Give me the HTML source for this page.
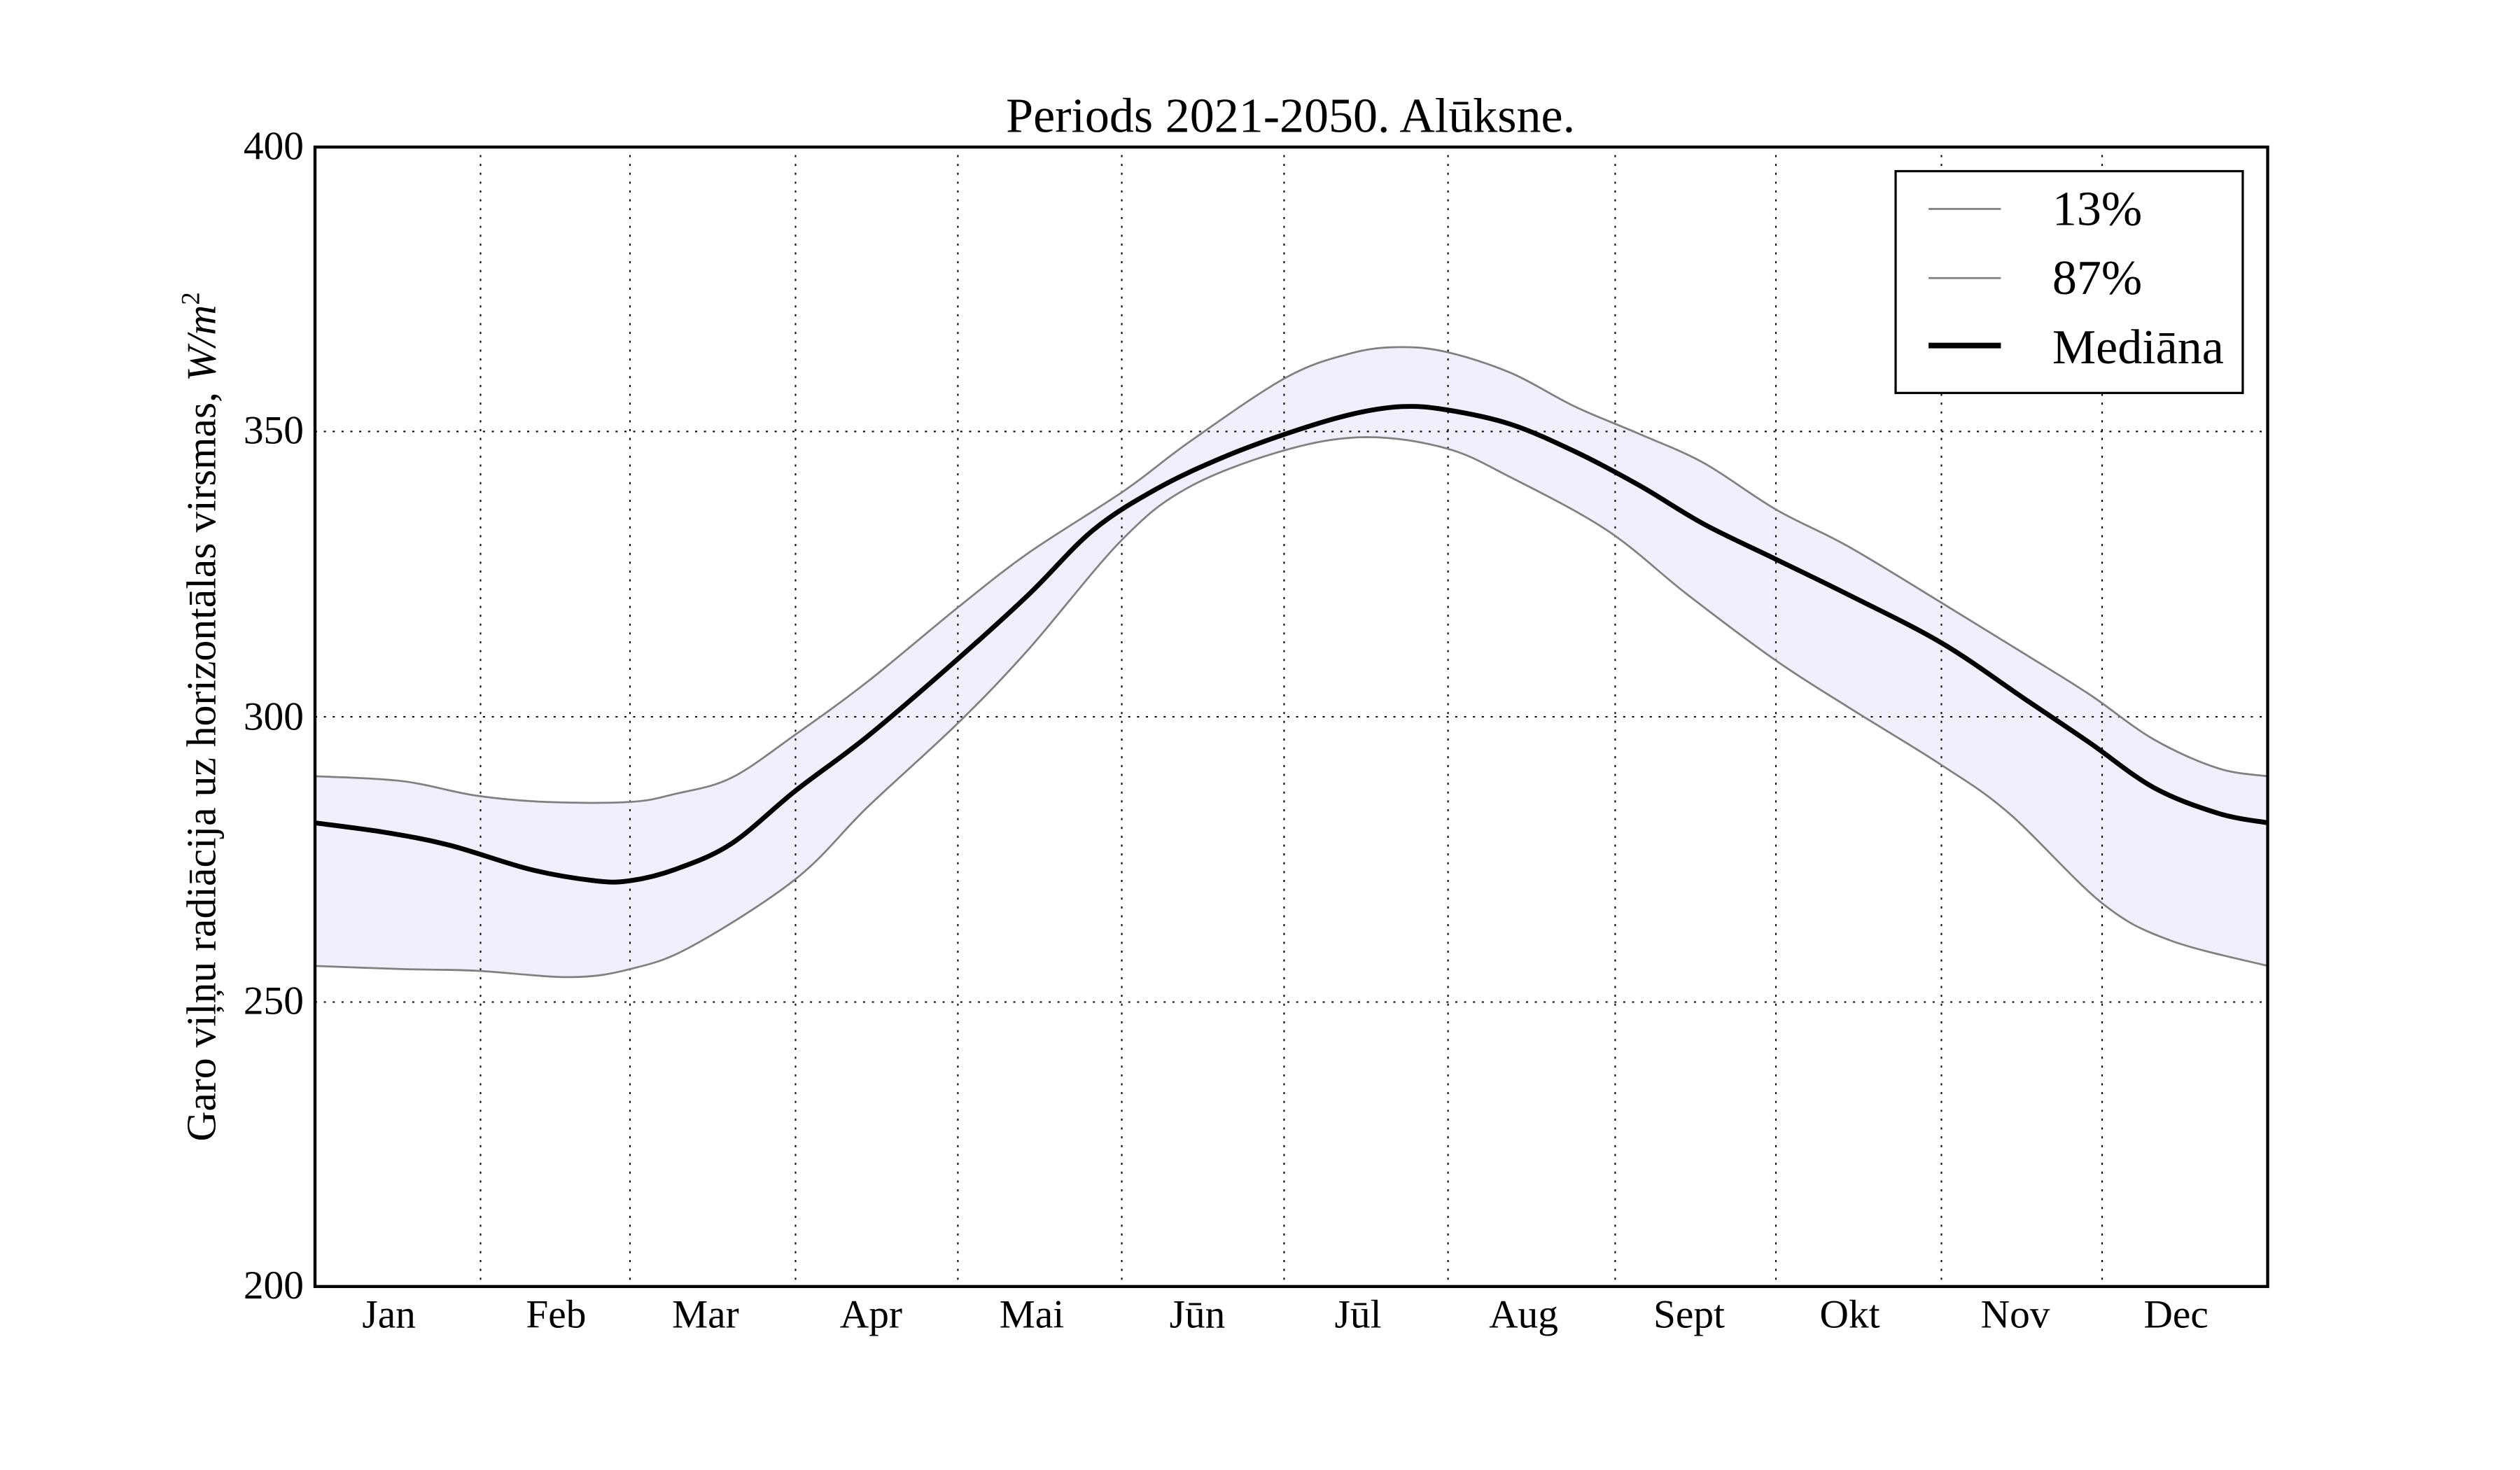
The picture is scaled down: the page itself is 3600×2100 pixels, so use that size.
<!DOCTYPE html>
<html><head><meta charset="utf-8"><style>html,body{margin:0;padding:0;background:#fff}svg{display:block}</style></head>
<body>
<svg width="3600" height="2100" viewBox="0 0 1568 914.67" xmlns="http://www.w3.org/2000/svg" font-family="Liberation Serif, serif">
<rect width="1568" height="914.67" fill="#fff"/>
<path id="band" fill="#f0f0fd" stroke="none" d=""/>
<g stroke="#000" stroke-width="0.9" stroke-dasharray="1.3 4.2" fill="none">
<line x1="299" y1="91" x2="299" y2="800"/><line x1="392" y1="91" x2="392" y2="800"/><line x1="495" y1="91" x2="495" y2="800"/><line x1="596" y1="91" x2="596" y2="800"/><line x1="698" y1="91" x2="698" y2="800"/><line x1="799" y1="91" x2="799" y2="800"/><line x1="901" y1="91" x2="901" y2="800"/><line x1="1005" y1="91" x2="1005" y2="800"/><line x1="1105" y1="91" x2="1105" y2="800"/><line x1="1208" y1="91" x2="1208" y2="800"/><line x1="1308" y1="91" x2="1308" y2="800"/>
<line x1="196" y1="268.5" x2="1411" y2="268.5"/><line x1="196" y1="446" x2="1411" y2="446"/><line x1="196" y1="623.5" x2="1411" y2="623.5"/>
</g>
<path id="up" fill="none" stroke="#808080" stroke-width="1.2" d=""/>
<path id="lo" fill="none" stroke="#808080" stroke-width="1.2" d=""/>
<path id="med" fill="none" stroke="#000" stroke-width="3" stroke-linejoin="round" d=""/>
<rect x="196" y="91.5" width="1215" height="709" fill="none" stroke="#000" stroke-width="1.9"/>
<g font-size="25" text-anchor="end">
<text x="189" y="99">400</text><text x="189" y="276">350</text><text x="189" y="454">300</text><text x="189" y="631">250</text><text x="189" y="808">200</text>
</g>
<g font-size="25" text-anchor="middle">
<text x="242" y="826">Jan</text><text x="346" y="826">Feb</text><text x="439" y="826">Mar</text><text x="542" y="826">Apr</text><text x="642" y="826">Mai</text><text x="745" y="826">Jūn</text><text x="845" y="826">Jūl</text><text x="948" y="826">Aug</text><text x="1051" y="826">Sept</text><text x="1151" y="826">Okt</text><text x="1254" y="826">Nov</text><text x="1354" y="826">Dec</text>
</g>
<text x="803" y="82" font-size="30.5" text-anchor="middle">Periods 2021-2050. Alūksne.</text>
<text transform="translate(134,446) rotate(-90)" font-size="26" text-anchor="middle">Garo viļņu radiācija uz horizontālas virsmas, <tspan font-style="italic">W/m</tspan><tspan font-size="16" dy="-10">2</tspan></text>
<rect x="1179.5" y="106.5" width="216" height="138" fill="#fff" stroke="#000" stroke-width="1.4"/>
<line x1="1200" y1="130" x2="1245" y2="130" stroke="#808080" stroke-width="1.2"/>
<line x1="1200" y1="173" x2="1245" y2="173" stroke="#808080" stroke-width="1.2"/>
<line x1="1200" y1="215" x2="1245" y2="215" stroke="#000" stroke-width="3.5"/>
<g font-size="30.5"><text x="1277" y="140">13%</text><text x="1277" y="183">87%</text><text x="1277" y="226">Mediāna</text></g>
</svg>
<script>
var U=[[196,483],[250,486],[296,495],[340,499],[392,499],[420,494],[455,484],[495,457],[540,424],[596,378],[640,344],[700,305],[740,275],[800,235],[840,220],[870,216],[900,219],[940,232],[980,253],[1020,270],[1060,288],[1105,317],[1150,340],[1208,375],[1260,407],[1300,432],[1340,460],[1380,478],[1411,483]];
var L=[[196,601],[250,603],[296,604],[355,608],[392,603],[430,589],[495,547],[540,502],[596,450],[640,404],[698,336],[740,303],[800,280],[850,272],[900,279],[940,297],[1000,330],[1050,370],[1105,411],[1150,440],[1208,476],[1250,506],[1308,562],[1350,585],[1411,601]];
var M=[[196,512],[240,518],[280,526],[330,541],[370,548],[392,548],[420,541],[455,525],[495,492],[540,458],[596,410],[640,370],[680,330],[720,304],[760,285],[800,270],[840,258],[872,253],[900,255],[940,264],[980,281],[1020,302],[1060,326],[1105,348],[1150,370],[1208,400],[1260,435],[1300,462],[1340,490],[1380,506],[1411,512]];
function cr(p,start){var d=start?('M'+p[0][0]+','+p[0][1]):('L'+p[0][0]+','+p[0][1]);
for(var i=0;i<p.length-1;i++){var p0=p[i>0?i-1:i],p1=p[i],p2=p[i+1],p3=p[i+2<p.length?i+2:i+1];
var c1x=p1[0]+(p2[0]-p0[0])/6,c1y=p1[1]+(p2[1]-p0[1])/6,c2x=p2[0]-(p3[0]-p1[0])/6,c2y=p2[1]-(p3[1]-p1[1])/6;
d+=' C'+c1x.toFixed(2)+','+c1y.toFixed(2)+' '+c2x.toFixed(2)+','+c2y.toFixed(2)+' '+p2[0]+','+p2[1];}return d;}
document.getElementById('up').setAttribute('d',cr(U,1));
document.getElementById('lo').setAttribute('d',cr(L,1));
document.getElementById('med').setAttribute('d',cr(M,1));
document.getElementById('band').setAttribute('d',cr(U,1)+' '+cr(L.slice().reverse(),0)+' Z');
</script>
</body></html>
